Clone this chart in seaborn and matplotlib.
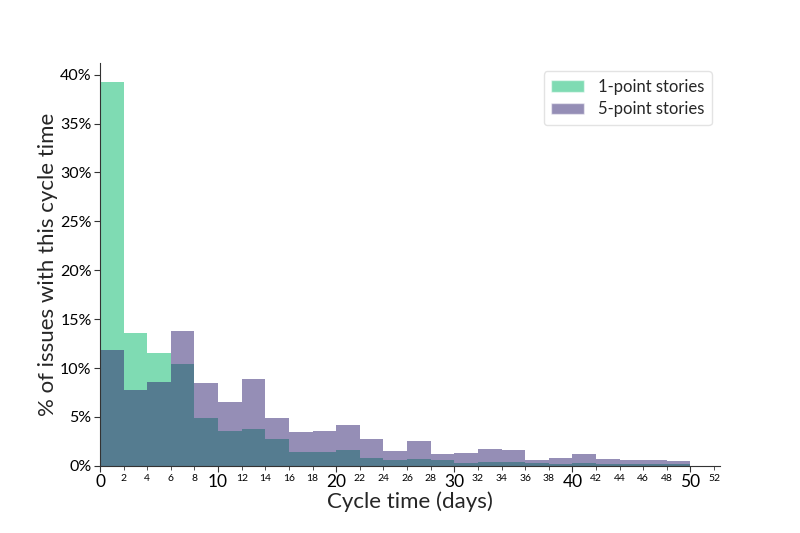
import numpy as np
import pandas as pd
import matplotlib
matplotlib.use("Agg")
import matplotlib.pyplot as plt
import seaborn as sns
from matplotlib.ticker import MultipleLocator, PercentFormatter, FuncFormatter
from matplotlib.patches import Patch

# Data: percentage of issues per 2-day cycle-time bin
bin_edges = list(range(0, 52, 2))
series_names = ["1-point stories", "5-point stories"]
one_point = [39.25, 13.6, 11.56, 10.4, 4.9, 3.6, 3.8, 2.7, 1.4, 1.4, 1.57, 0.85,
             0.58, 0.72, 0.62, 0.34, 0.38, 0.44, 0.34, 0.2, 0.34, 0.22, 0.17, 0.16, 0.15]
five_point = [11.8, 7.8, 8.6, 13.8, 8.5, 6.5, 8.9, 4.85, 3.5, 3.6, 4.2, 2.77,
              1.5, 2.5, 1.18, 1.28, 1.7, 1.57, 0.58, 0.82, 1.16, 0.72, 0.55, 0.58, 0.52]

centers = [(a + b) / 2 for a, b in zip(bin_edges[:-1], bin_edges[1:])]
df = pd.DataFrame({
    "cycle": centers * 2,
    "pct": one_point + five_point,
    "series": [series_names[0]] * len(centers) + [series_names[1]] * len(centers),
})

sns.set_style("white")
plt.rcParams["font.family"] = ["Lato", "DejaVu Sans"]

colors = {"1-point stories": "#00B969", "5-point stories": "#2D1F6F"}
alpha = 0.5

fig = plt.figure(figsize=(8, 5.33), dpi=100)
ax = fig.add_axes([0.125, 0.126, 0.775, 0.756])

for name in series_names:
    sub = df[df["series"] == name]
    sns.histplot(data=sub, x="cycle", weights="pct", bins=bin_edges, stat="count",
                 color=colors[name], alpha=alpha, linewidth=0, element="bars",
                 ax=ax)

ax.set_xlim(0, 52.5)
ax.set_ylim(0, 41.2)
ax.yaxis.set_major_locator(MultipleLocator(5))
ax.yaxis.set_major_formatter(PercentFormatter(decimals=0))
ax.xaxis.set_major_locator(MultipleLocator(10))
ax.xaxis.set_minor_locator(MultipleLocator(2))
ax.xaxis.set_minor_formatter(FuncFormatter(lambda v, p: f"{int(v)}"))

ax.tick_params(axis="x", which="major", labelsize=12.5, length=4, width=0.8, colors="#333333", labelcolor="black", pad=2)
ax.tick_params(axis="x", which="minor", labelsize=7.5, length=3, width=0.6, colors="#333333", labelcolor="black", pad=3)
ax.tick_params(axis="y", which="major", labelsize=11.5, length=4, width=0.8, colors="#333333", labelcolor="black", left=True, pad=2)
ax.tick_params(axis="x", bottom=True, which="both")

ax.set_xlabel("Cycle time (days)", fontsize=16, labelpad=1)
ax.set_ylabel("% of issues with this cycle time", fontsize=16, labelpad=1.5)

sns.despine(ax=ax)
for s in ["left", "bottom"]:
    ax.spines[s].set_color("#333333")
    ax.spines[s].set_linewidth(0.8)

handles = [Patch(facecolor=colors[n], alpha=alpha, label=n) for n in series_names]
ax.legend(handles=handles, loc="upper right", fontsize=12, frameon=True,
          edgecolor="#dddddd", borderpad=0.45, labelspacing=0.4,
          handlelength=2.0, handletextpad=0.8)

fig.savefig("out.png", dpi=100)
